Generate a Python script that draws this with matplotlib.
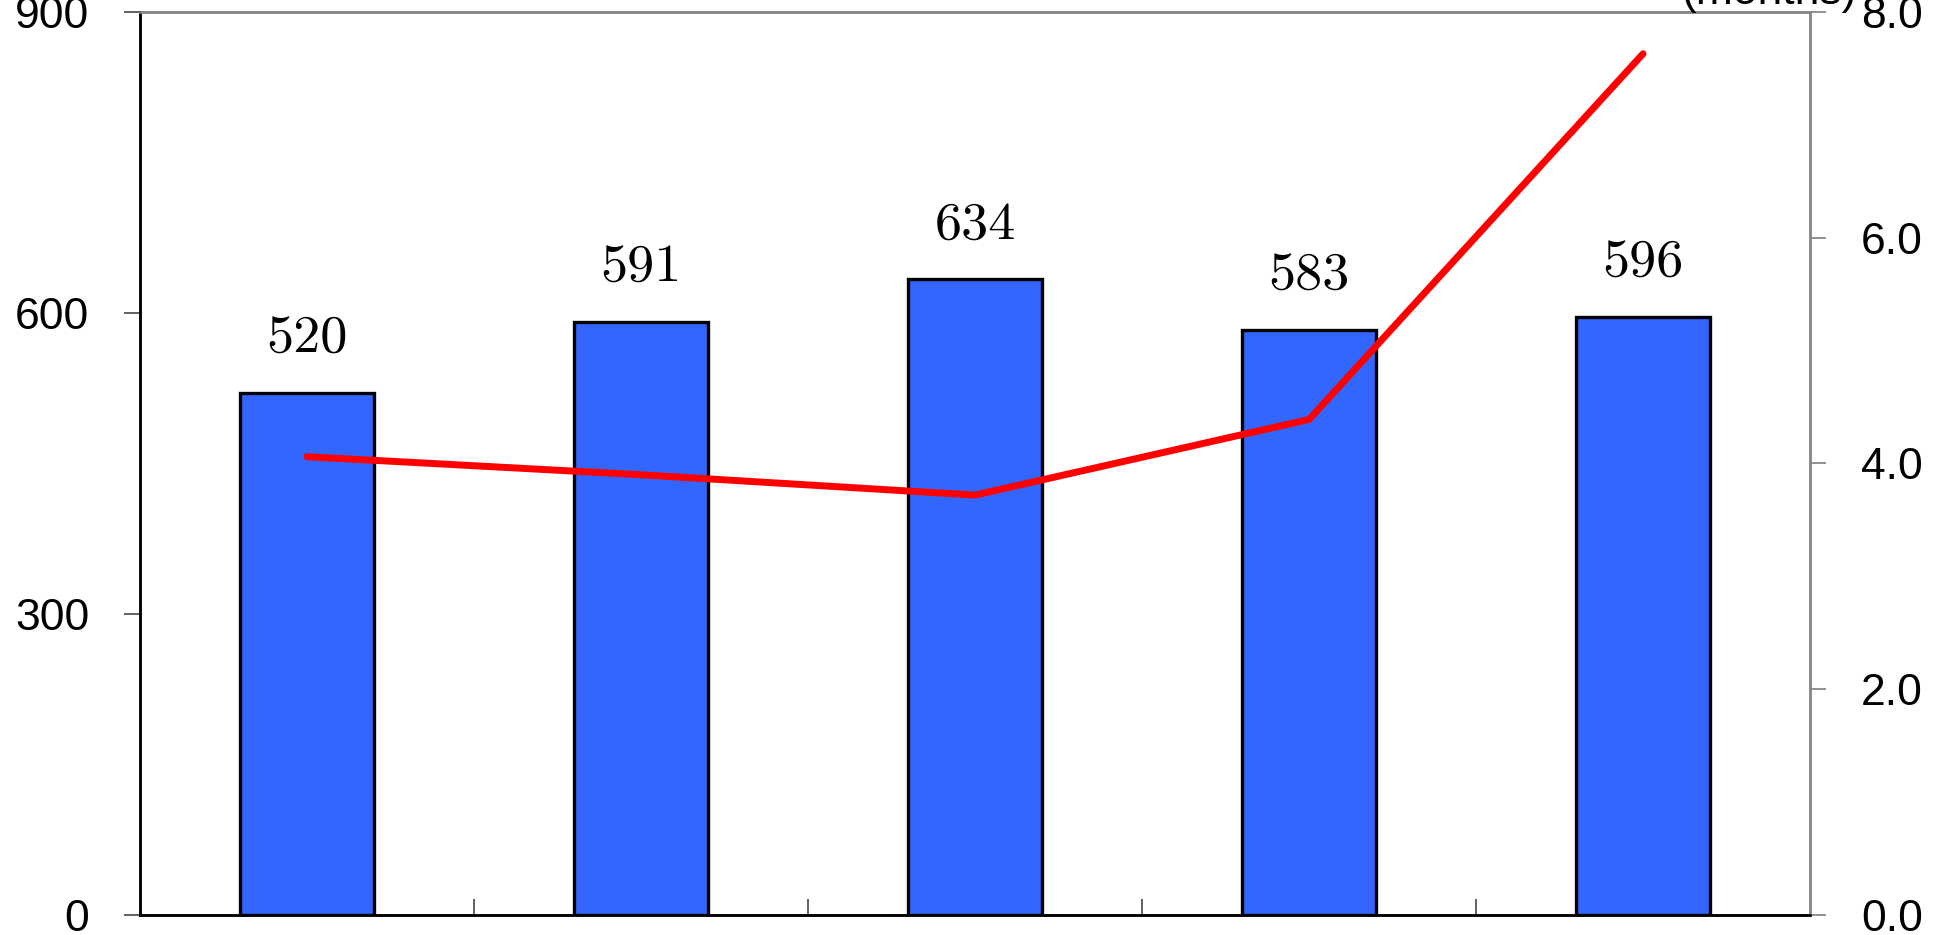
import matplotlib.pyplot as plt
import numpy as np

# bars on the left axis, duration line on the right axis (months)
categories = ["1", "2", "3", "4", "5"]
bar_values = [520, 591, 634, 583, 596]
line_values = [4.06, 3.90, 3.72, 4.39, 7.63]

left_ticks = [0, 300, 600, 900]
right_ticks = [0.0, 2.0, 4.0, 6.0, 8.0]

fig = plt.figure(figsize=(19.52, 9.35), dpi=100)
ax = fig.add_axes([0.0717, 0.0214, 0.8556, 0.9658])
ax2 = ax.twinx()

x = np.arange(len(categories))
ax.bar(x, bar_values, width=0.4, color="#3366FF", edgecolor="black", linewidth=2.4, zorder=2)
for xi, v in zip(x, bar_values):
    ax.text(xi, v + 40, str(v), ha="center", va="baseline", fontsize=39, family="cmr10")

ax2.plot(x, line_values, color="#FF0000", linewidth=5.0, solid_capstyle="round")

ax.set_xlim(-0.5, 4.5)
ax.set_ylim(0, 900)
ax2.set_ylim(0, 8)

ax.set_yticks(left_ticks)
ax.set_yticklabels([str(t) for t in left_ticks])
ax2.set_yticks(right_ticks)
ax2.set_yticklabels(["%.1f" % t for t in right_ticks])

ax.set_xticks(np.arange(0.5, 4.5, 1.0))
ax.set_xticklabels([])
ax.tick_params(axis="x", direction="in", length=11.5, width=1.3, color="#555555")
ax.tick_params(axis="y", direction="out", length=11.5, width=1.3, color="#555555",
               pad=25, labelsize=32, labelfontfamily="Liberation Sans")
ax2.tick_params(axis="y", direction="out", length=11.5, width=1.3, color="#888888",
                pad=25, labelsize=32, labelfontfamily="Liberation Sans")

for a in (ax, ax2):
    a.spines["left"].set_color("black")
    a.spines["bottom"].set_color("black")
    a.spines["top"].set_color("#888888")
    a.spines["right"].set_color("#888888")
    for s in a.spines.values():
        s.set_linewidth(1.8)

# axis unit note sits above the right axis, against the top edge
fig.text(0.951, 0.996, "(months)", ha="right", va="baseline", fontsize=32,
         family="Liberation Sans")

fig.savefig("out.png", dpi=100)
